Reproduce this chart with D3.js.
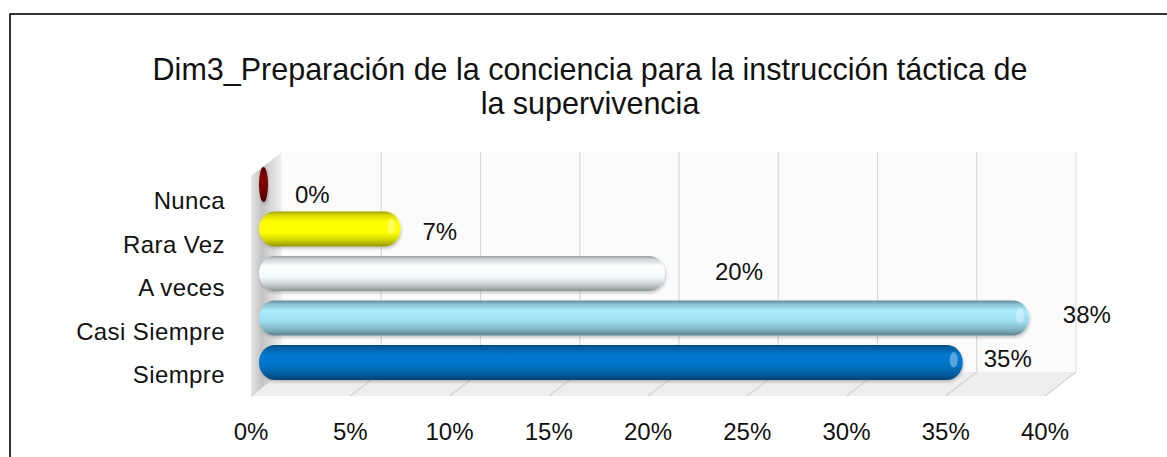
<!DOCTYPE html>
<html>
<head>
<meta charset="utf-8">
<script src="https://cdn.jsdelivr.net/npm/d3@7"></script>
<style>
  html, body { margin: 0; padding: 0; background: #ffffff; }
  svg { display: block; font-family: "Liberation Sans", Arial, sans-serif; }
</style>
</head>
<body>
<svg id="chart" width="1167" height="457"></svg>
<script>
// ---- data ----
const titleLines = ["Dim3_Preparación de la conciencia para la instrucción táctica de", "la supervivencia"];
const categories = ["Siempre", "Casi Siempre", "A veces", "Rara Vez", "Nunca"];
const values = [35, 38.33, 20, 6.67, 0];
const barColors = ["#0072C4", "#9EDDF0", "#F2FBFD", "#FFFF00", "#7A0000"];
const xTicks = [0, 5, 10, 15, 20, 25, 30, 35, 40];

// ---- layout ----
const svg = d3.select("#chart");
const W = 1167, H = 457;
const depthX = 31, depthY = -24;
const floorY = 396;

const x = d3.scaleLinear().domain([0, 40]).range([251, 1045]);
const order = categories.slice().reverse(); // top to bottom
const y = d3.scaleBand().domain(order).range([167, 380]).paddingInner(0.213).paddingOuter(0);
const yLab = d3.scalePoint().domain(order).range([209, 383]);

const defs = svg.append("defs");

// frame
svg.append("rect").attr("x", 10).attr("y", 14).attr("width", W + 20).attr("height", H + 20)
  .attr("fill", "#fff").attr("stroke", "#000").attr("stroke-width", 1.6);

// title
svg.append("g").selectAll("text").data(titleLines).join("text")
  .attr("x", 590).attr("y", (d, i) => 80 + i * 34)
  .attr("text-anchor", "middle").attr("font-size", 30.5).attr("fill", "#111")
  .text(d => d);

// ---- 3D walls ----
const x0 = x(0), x1 = x(40);
const topY = 152;
svg.append("rect").attr("x", x0 + depthX).attr("y", topY)
  .attr("width", x1 - x0).attr("height", floorY + depthY - topY)
  .attr("fill", "#fbfbfb");
const lg = defs.append("linearGradient").attr("id", "leftWall").attr("x1", 0).attr("x2", 1).attr("y1", 0).attr("y2", 0);
lg.append("stop").attr("offset", "0%").attr("stop-color", "#e6e6e6");
lg.append("stop").attr("offset", "35%").attr("stop-color", "#c2c2c2");
lg.append("stop").attr("offset", "100%").attr("stop-color", "#f2f2f2");
svg.append("path")
  .attr("d", d3.line()([[x0, floorY], [x0, topY - depthY], [x0 + depthX, topY], [x0 + depthX, floorY + depthY]]) + "Z")
  .attr("fill", "url(#leftWall)");
svg.append("path")
  .attr("d", d3.line()([[x0, floorY], [x1, floorY], [x1 + depthX, floorY + depthY], [x0 + depthX, floorY + depthY]]) + "Z")
  .attr("fill", "#eeeeee");
svg.append("g").selectAll("line").data(xTicks.slice(1)).join("line")
  .attr("x1", d => x(d) + depthX).attr("x2", d => x(d) + depthX)
  .attr("y1", topY).attr("y2", floorY + depthY)
  .attr("stroke", d => d === 40 ? "#e2e2e2" : "#d9d9d9").attr("stroke-width", 1.2);
svg.append("g").selectAll("line").data(xTicks).join("line")
  .attr("x1", d => x(d)).attr("y1", floorY)
  .attr("x2", d => x(d) + depthX).attr("y2", floorY + depthY)
  .attr("stroke", "#d4d4d4").attr("stroke-width", 1.2);

// ---- bars (cylinders) ----
const data = categories.map((c, i) => ({ cat: c, v: values[i], color: barColors[i], i }));
data.forEach(d => {
  const base = d3.rgb(d.color);
  const g = defs.append("linearGradient").attr("id", "cyl" + d.i)
    .attr("x1", 0).attr("x2", 0).attr("y1", 0).attr("y2", 1);
  const stops = [
    [0, base.darker(1.3)],
    [0.1, base.darker(0.45)],
    [0.3, base.brighter(0.2)],
    [0.6, base],
    [0.82, base.darker(0.55)],
    [1, base.darker(1.5)]
  ];
  stops.forEach(s => g.append("stop").attr("offset", s[0]).attr("stop-color", d3.rgb(s[1]).formatHex()));
});
const shadow = defs.append("filter").attr("id", "shadow").attr("x", "-5%").attr("y", "-20%").attr("width", "115%").attr("height", "160%");
shadow.append("feDropShadow").attr("dx", 1).attr("dy", 2).attr("stdDeviation", 1.5).attr("flood-color", "#000").attr("flood-opacity", 0.22);

const barStart = x(0) + 8;
svg.append("g").selectAll("rect").data(data).join("rect")
  .attr("x", barStart)
  .attr("y", d => y(d.cat))
  .attr("width", d => x(d.v) - x(0) + 9)
  .attr("height", y.bandwidth())
  .attr("rx", d => Math.min(y.bandwidth() / 2.2, (x(d.v) - x(0) + 9) / 2))
  .attr("ry", y.bandwidth() / 2)
  .attr("fill", d => `url(#cyl${d.i})`)
  .attr("filter", "url(#shadow)");
svg.append("g").selectAll("ellipse").data(data.filter(d => d.v > 0)).join("ellipse")
  .attr("cx", d => x(d.v) + 8)
  .attr("cy", d => y(d.cat) + y.bandwidth() * 0.42)
  .attr("rx", 4).attr("ry", y.bandwidth() * 0.22)
  .attr("fill", "#ffffff").attr("opacity", 0.35);

// ---- data labels ----
const labelNudge = { "Nunca": [5, 11.5], "Rara Vez": [0, 4], "A veces": [28, -1], "Casi Siempre": [12, -1.5], "Siempre": [-1, -2.5] };
const fmt = d3.format(".0%");
svg.append("g").selectAll("text").data(data).join("text")
  .attr("x", d => x(d.v) + 17 + 22 + labelNudge[d.cat][0])
  .attr("y", d => y(d.cat) + y.bandwidth() / 2 + 7 + labelNudge[d.cat][1])
  .attr("font-size", 24).attr("fill", "#111")
  .text(d => fmt(d.v / 100));

// ---- category labels ----
svg.append("g").selectAll("text").data(order).join("text")
  .attr("x", 225).attr("y", d => yLab(d))
  .attr("text-anchor", "end").attr("font-size", 24).attr("letter-spacing", 0.4).attr("fill", "#111")
  .text(d => d);

// ---- x axis labels ----
svg.append("g").selectAll("text").data(xTicks).join("text")
  .attr("x", d => x(d)).attr("y", 440)
  .attr("text-anchor", "middle").attr("font-size", 24).attr("fill", "#111")
  .text(d => d + "%");
</script>
</body>
</html>
